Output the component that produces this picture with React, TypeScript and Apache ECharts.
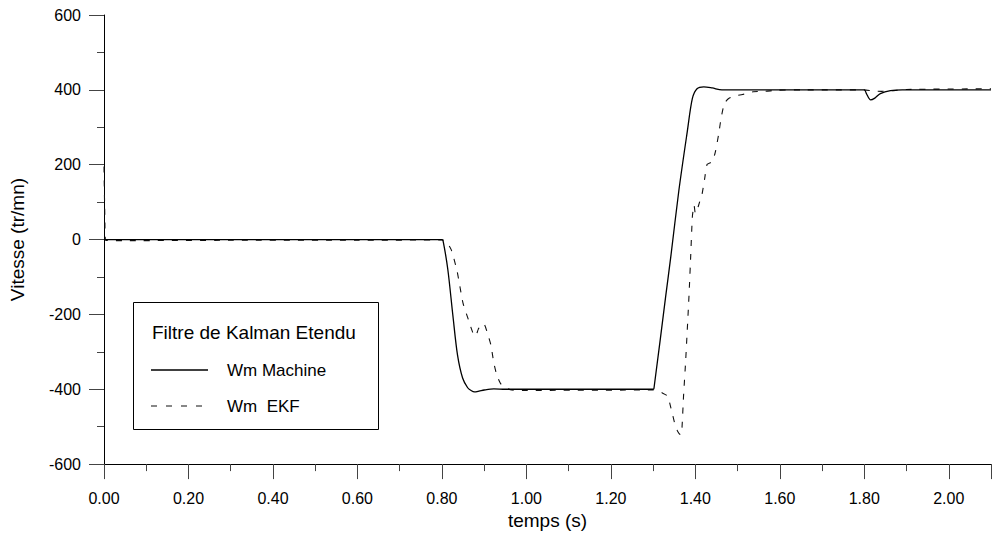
import React, { useEffect, useRef } from "react";
import * as echarts from "echarts";

// Wm Machine (solid)
const machineT = [0, 0.8, 0.803, 0.814, 0.826, 0.837, 0.849, 0.861, 0.87, 0.877, 0.888, 0.9, 0.923, 0.95, 1.3, 1.302, 1.33, 1.342, 1.361, 1.381, 1.393, 1.404, 1.42, 1.44, 1.463, 1.5, 1.8, 1.805, 1.815, 1.825, 1.838, 1.862, 1.89, 2.1];
const machineV = [0, 0, -5, -80, -203, -309, -370, -396, -404, -407, -405, -402, -399, -400, -400, -398, -150, -45, 131, 289, 377, 403, 408, 405, 400, 400, 400, 390, 373, 378, 390, 398, 400, 400];

// Wm EKF (dashed)
const ekfT = [0, 0.002, 0.004, 0.05, 0.3, 0.6, 0.8, 0.81, 0.822, 0.836, 0.85, 0.863, 0.873, 0.88, 0.886, 0.894, 0.901, 0.908, 0.916, 0.923, 0.93, 0.939, 0.951, 0.965, 1.0, 1.3, 1.31, 1.322, 1.334, 1.342, 1.352, 1.358, 1.365, 1.368, 1.372, 1.377, 1.385, 1.389, 1.393, 1.397, 1.4, 1.404, 1.41, 1.416, 1.422, 1.428, 1.44, 1.447, 1.455, 1.461, 1.469, 1.479, 1.496, 1.522, 1.537, 1.565, 1.595, 1.65, 1.8, 1.82, 1.84, 1.87, 1.9, 2.1];
const ekfV = [195, 60, -2, -3, -2, -2, -1, -5, -27, -85, -170, -215, -248, -258, -240, -225, -228, -251, -282, -330, -362, -385, -396, -402, -403, -402, -404, -410, -418, -449, -495, -512, -522, -510, -420, -326, -150, -45, 61, 92, 70, 78, 100, 122, 162, 201, 208, 232, 280, 324, 364, 377, 384, 390, 395, 396, 399, 400, 400, 397, 396, 398, 401, 403];

const xLabel = "temps (s)";
const yLabel = "Vitesse (tr/mn)";
const legendTitle = "Filtre de Kalman Etendu";
const seriesNames = ["Wm Machine", "Wm  EKF"];

const FONT = "'Liberation Sans', Arial, sans-serif";

export default function App() {
  const ref = useRef<HTMLDivElement>(null);
  useEffect(() => {
    const chart = echarts.init(ref.current!, null, { renderer: "svg" });
    const machine = machineT.map((t, i) => [t, machineV[i]]);
    const ekf = ekfT.map((t, i) => [t, ekfV[i]]);
    const grid = { left: 103, top: 15, width: 895, height: 455 };
    chart.setOption({
      animation: false,
      backgroundColor: "#fff",
      grid,
      xAxis: [
        {
          type: "value",
          min: 0,
          max: 2.1,
          interval: 0.2,
          position: "bottom",
          name: xLabel,
          nameLocation: "middle",
          nameGap: 45,
          nameTextStyle: { color: "#000", fontSize: 19, fontFamily: FONT },
          axisLine: { show: true, onZero: false, lineStyle: { color: "#000", width: 1 } },
          axisTick: { show: true, length: 15, lineStyle: { color: "#444" } },
          axisLabel: {
            color: "#000",
            fontSize: 16,
            fontFamily: FONT,
            margin: 26,
            formatter: (v: number) => {
              const k = v / 0.2;
              return Math.abs(k - Math.round(k)) < 1e-6 ? v.toFixed(2) : "";
            },
          },
          splitLine: { show: false },
        },
        {
          type: "value",
          min: 0,
          max: 2.1,
          interval: 0.1,
          position: "bottom",
          axisLine: { show: false, onZero: false },
          axisTick: { show: true, length: 7, lineStyle: { color: "#444" } },
          axisLabel: { show: false },
          splitLine: { show: false },
        },
      ],
      yAxis: [
        {
          type: "value",
          min: -600,
          max: 600,
          interval: 200,
          name: yLabel,
          nameLocation: "middle",
          nameGap: 77,
          nameRotate: 90,
          nameTextStyle: { color: "#000", fontSize: 19, fontFamily: FONT },
          axisLine: { show: true, onZero: false, lineStyle: { color: "#000", width: 1 } },
          axisTick: { show: true, length: 15, lineStyle: { color: "#444" } },
          minorTick: { show: true, splitNumber: 2, length: 7, lineStyle: { color: "#444" } },
          axisLabel: { color: "#000", fontSize: 16, fontFamily: FONT, margin: 23 },
          splitLine: { show: false },
          minorSplitLine: { show: false },
        },
      ],
      series: [
        {
          name: seriesNames[0],
          type: "line",
          xAxisIndex: 0,
          data: machine,
          showSymbol: false,
          symbol: "none",
          smooth: 0.3,
          lineStyle: { color: "#000", width: 1.3 },
          z: 3,
        },
        {
          name: seriesNames[1],
          type: "line",
          xAxisIndex: 0,
          data: ekf,
          showSymbol: false,
          symbol: "none",
          smooth: 0.2,
          lineStyle: { color: "#111", width: 1.1, type: [6, 8] },
          z: 2,
        },
      ],
      graphic: [
        {
          type: "rect",
          shape: { x: 133.5, y: 302.5, width: 245, height: 127 },
          style: { fill: "#fff", stroke: "#000", lineWidth: 1 },
          z: 10,
        },
        {
          type: "text",
          x: 152,
          y: 332,
          style: { text: legendTitle, fill: "#000", fontSize: 19, fontFamily: FONT, verticalAlign: "middle" },
          z: 11,
        },
        {
          type: "line",
          shape: { x1: 151, y1: 370, x2: 208, y2: 370 },
          style: { stroke: "#000", lineWidth: 1.3 },
          z: 11,
        },
        {
          type: "text",
          x: 227,
          y: 370,
          style: { text: seriesNames[0], fill: "#000", fontSize: 17, fontFamily: FONT, verticalAlign: "middle" },
          z: 11,
        },
        {
          type: "line",
          shape: { x1: 151, y1: 406, x2: 208, y2: 406 },
          style: { stroke: "#111", lineWidth: 1.1, lineDash: [6, 9] },
          z: 11,
        },
        {
          type: "text",
          x: 227,
          y: 406,
          style: { text: seriesNames[1], fill: "#000", fontSize: 17, fontFamily: FONT, verticalAlign: "middle" },
          z: 11,
        },
      ],
    });
    return () => chart.dispose();
  }, []);
  return <div ref={ref} style={{ position: "fixed", left: 0, top: 0, width: 994, height: 535 }} />;
}
